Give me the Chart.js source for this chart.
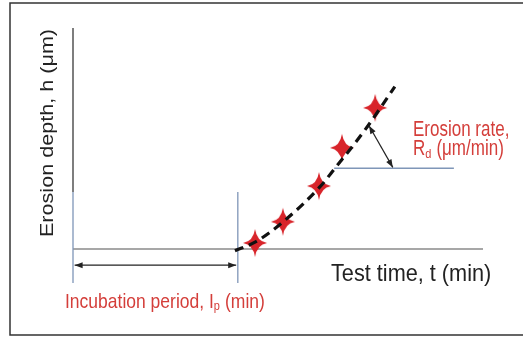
<!DOCTYPE html>
<html>
<head>
<meta charset="utf-8">
<script src="https://cdn.jsdelivr.net/npm/chart.js@4.4.1/dist/chart.umd.min.js"></script>
<style>
  html, body { margin: 0; padding: 0; background: #fff; overflow: hidden; }
  canvas { display: block; }
</style>
</head>
<body>
<canvas id="erosion" width="523" height="337"></canvas>
<script>
// measured erosion depth h (um) against test time t (min)
var testTime = [44.4, 51.2, 60.0, 65.6, 73.7];
var depth = [0.7, 3.2, 7.4, 11.9, 16.6];

// fitted erosion curve
var fitTime = [39.5, 44.4, 51.0, 60.2, 63.9, 71.2, 78.5];
var fitDepth = [-0.2, 0.8, 3.1, 7.3, 9.5, 14.0, 19.1];

// incubation period and the rate triangle
var incubation = 40.2;
var rateBase = [63.7, 92.9];
var rateLevel = 9.5;
var rateArrow = [[72.2, 14.5], [78.0, 9.6]];

var tMax = 100, hMin = -4, hMax = 26;

var red = '#d43e3a';
var steel = '#7f96b8';
var FONT = '"Liberation Sans", Arial, sans-serif';

// four pointed star used as the point marker
function makeStar() {
    var c = document.createElement('canvas');
    c.width = 26; c.height = 30;
    var g = c.getContext('2d');
    var cx = 13, cy = 15, k = 1.8;
    g.beginPath();
    g.moveTo(cx, 1);
    g.quadraticCurveTo(cx + k, cy - k, 25, cy);
    g.quadraticCurveTo(cx + k, cy + k, cx, 29);
    g.quadraticCurveTo(cx - k, cy + k, 1, cy);
    g.quadraticCurveTo(cx - k, cy - k, cx, 1);
    g.closePath();
    g.fillStyle = '#d8242a';
    g.fill();
    return c;
}

function pts(xs, ys) {
    return xs.map(function (x, i) { return { x: x, y: ys[i] }; });
}

function arrowHead(ctx, x1, y1, x2, y2) {
    var a = Math.atan2(y2 - y1, x2 - x1), len = 8, w = 3;
    ctx.beginPath();
    ctx.moveTo(x2, y2);
    ctx.lineTo(x2 - len * Math.cos(a) + w * Math.sin(a), y2 - len * Math.sin(a) - w * Math.cos(a));
    ctx.lineTo(x2 - len * Math.cos(a) - w * Math.sin(a), y2 - len * Math.sin(a) + w * Math.cos(a));
    ctx.closePath();
    ctx.fill();
}

function doubleArrow(ctx, x1, y1, x2, y2) {
    ctx.beginPath();
    ctx.moveTo(x1, y1);
    ctx.lineTo(x2, y2);
    ctx.stroke();
    arrowHead(ctx, x1, y1, x2, y2);
    arrowHead(ctx, x2, y2, x1, y1);
}

// text drawn with a vertical stretch; returns the advance width
function label(ctx, text, x, y, size, sy) {
    ctx.save();
    ctx.font = size + 'px ' + FONT;
    ctx.translate(x, y);
    ctx.scale(1, sy);
    ctx.fillText(text, 0, 0);
    var w = ctx.measureText(text).width;
    ctx.restore();
    return w;
}

var annotations = {
    id: 'annotations',
    afterDatasetsDraw: function (chart) {
        var ctx = chart.ctx, xs = chart.scales.x, ys = chart.scales.y;
        ctx.save();

        // frame, open on the right
        ctx.strokeStyle = '#333';
        ctx.lineWidth = 1.5;
        ctx.beginPath();
        ctx.moveTo(530, 3);
        ctx.lineTo(10, 3);
        ctx.lineTo(10, 335);
        ctx.lineTo(530, 335);
        ctx.stroke();

        // arrows
        ctx.strokeStyle = '#222';
        ctx.fillStyle = '#222';
        ctx.lineWidth = 1.2;
        var ay = ys.getPixelForValue(-1.9);
        doubleArrow(ctx, xs.getPixelForValue(0.4), ay, xs.getPixelForValue(incubation - 0.4), ay);
        doubleArrow(ctx,
            xs.getPixelForValue(rateArrow[0][0]), ys.getPixelForValue(rateArrow[0][1]),
            xs.getPixelForValue(rateArrow[1][0]), ys.getPixelForValue(rateArrow[1][1]));

        // axis labels
        ctx.fillStyle = '#222';
        ctx.textBaseline = 'alphabetic';
        label(ctx, 'Test time, t (min)', 331, 281, 21.7, 1.07);

        ctx.save();
        ctx.translate(53, 133);
        ctx.rotate(-Math.PI / 2);
        ctx.scale(1.2, 1);
        ctx.textAlign = 'center';
        ctx.font = '18px ' + FONT;
        ctx.fillText('Erosion depth, h (\u03bcm)', 0, 0);
        ctx.restore();

        // annotations in red
        ctx.fillStyle = red;
        label(ctx, 'Erosion rate,', 413, 136, 17, 1.25);
        var x = 413;
        x += label(ctx, 'R', x, 155, 17, 1.25);
        x += label(ctx, 'd', x, 158, 11, 1.2) + 5;
        label(ctx, '(\u03bcm/min)', x, 155, 17, 1.25);

        x = 65;
        x += label(ctx, 'Incubation period, I', x, 308, 17.5, 1.2);
        x += label(ctx, 'p', x, 310, 11, 1.2) + 5;
        label(ctx, '(min)', x, 308, 17.5, 1.2);

        ctx.restore();
    }
};

var seg = function (x1, y1, x2, y2, color, order) {
    return {
        type: 'line',
        data: [{ x: x1, y: y1 }, { x: x2, y: y2 }],
        borderColor: color,
        borderWidth: 1.3,
        pointRadius: 0,
        clip: false,
        order: order || 5
    };
};

new Chart(document.getElementById('erosion'), {
    type: 'scatter',
    data: {
        datasets: [
            {
                type: 'line',
                label: 'fit',
                data: pts(fitTime, fitDepth),
                borderColor: '#111',
                borderWidth: 3.2,
                borderDash: [9, 6],
                cubicInterpolationMode: 'monotone',
                pointRadius: 0,
                clip: false,
                order: 0
            },
            {
                label: 'measured',
                data: pts(testTime, depth),
                pointStyle: makeStar(),
                pointRadius: 13,
                clip: false,
                order: 1
            },
            seg(0, hMax, 0, 6.7, '#3a3a3a'),
            seg(0, 6.7, 0, hMin, steel),
            seg(0, 0, tMax, 0, '#8a8a8a'),
            seg(incubation, 6.7, incubation, hMin, steel),
            seg(rateBase[0], rateLevel, rateBase[1], rateLevel, steel)
        ]
    },
    options: {
        responsive: false,
        animation: false,
        layout: { padding: { left: 73, right: 40, top: 28, bottom: 54 } },
        plugins: { legend: { display: false }, tooltip: { enabled: false } },
        scales: {
            x: { type: 'linear', min: 0, max: tMax, display: false },
            y: { type: 'linear', min: hMin, max: hMax, display: false }
        }
    },
    plugins: [annotations]
});
</script>
</body>
</html>
